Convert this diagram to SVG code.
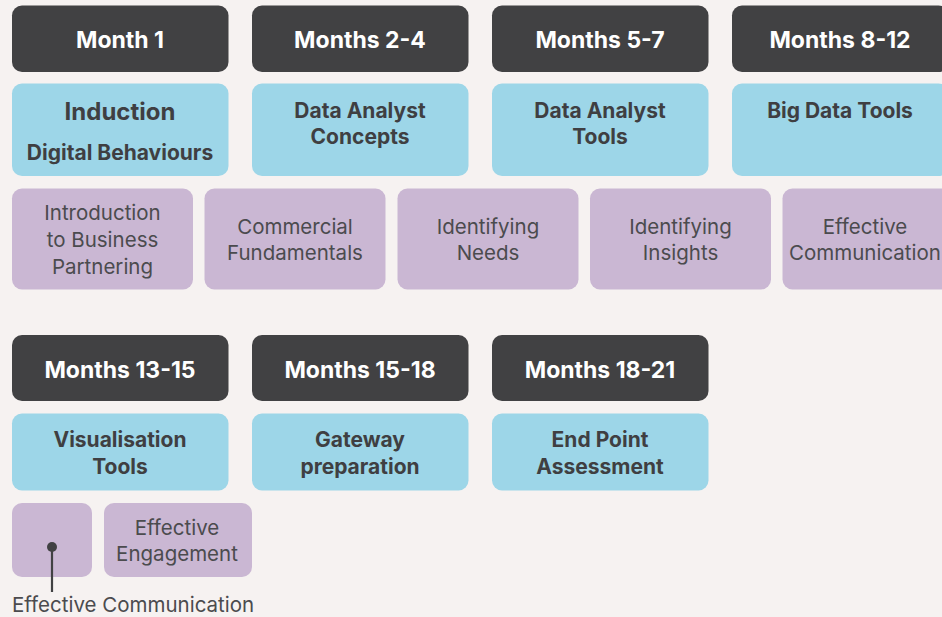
<svg xmlns="http://www.w3.org/2000/svg" width="942" height="617" viewBox="0 0 942 617">
<style>
.bg{fill:#f6f2f1}
.dk{fill:#414143}
.bl{fill:#9dd6e8}
.pu{fill:#cab7d3}
.th{font-family:Inter,"Noto Sans",sans-serif;font-weight:700;font-size:23px;fill:#ffffff;text-anchor:middle}
.tb{font-family:Inter,"Noto Sans",sans-serif;font-weight:700;font-size:21px;fill:#3f3f42;text-anchor:middle}
.tp{font-family:Inter,"Noto Sans",sans-serif;font-weight:400;font-size:20.5px;fill:#4b4b4e;text-anchor:middle}
.tl{font-family:Inter,"Noto Sans",sans-serif;font-weight:400;font-size:20.5px;fill:#4b4b4e}
</style>
<rect class="bg" x="0" y="0" width="942" height="617"/>

<g id="m1"><rect class="dk" x="12" y="5.5" width="216.5" height="66.5" rx="10"/><text class="th" x="120" y="48">Month 1</text></g>
<g id="m2-4"><rect class="dk" x="252" y="5.5" width="216.5" height="66.5" rx="10"/><text class="th" x="360" y="48">Months 2-4</text></g>
<g id="m5-7"><rect class="dk" x="492" y="5.5" width="216.5" height="66.5" rx="10"/><text class="th" x="600" y="48">Months 5-7</text></g>
<g id="m8-12"><rect class="dk" x="732" y="5.5" width="216.5" height="66.5" rx="10"/><text class="th" x="840" y="48">Months 8-12</text></g>

<g id="induction"><rect class="bl" x="12" y="83.5" width="216.5" height="92.5" rx="10"/><text class="tb" x="120" y="120" style="font-size:24px">Induction</text><text class="tb" x="120" y="160">Digital Behaviours</text></g>
<g id="da-concepts"><rect class="bl" x="252" y="83.5" width="216.5" height="92.5" rx="10"/><text class="tb" x="360" y="118">Data Analyst</text><text class="tb" x="360" y="144">Concepts</text></g>
<g id="da-tools"><rect class="bl" x="492" y="83.5" width="216.5" height="92.5" rx="10"/><text class="tb" x="600" y="118">Data Analyst</text><text class="tb" x="600" y="144">Tools</text></g>
<g id="big-data"><rect class="bl" x="732" y="83.5" width="216.5" height="92.5" rx="10"/><text class="tb" x="840" y="118">Big Data Tools</text></g>

<g id="intro-bp"><rect class="pu" x="12" y="188.5" width="181" height="101" rx="10"/><text class="tp" x="102.5" y="220">Introduction</text><text class="tp" x="102.5" y="247">to Business</text><text class="tp" x="102.5" y="273.5">Partnering</text></g>
<g id="commercial"><rect class="pu" x="204.5" y="188.5" width="181" height="101" rx="10"/><text class="tp" x="295" y="234">Commercial</text><text class="tp" x="295" y="260">Fundamentals</text></g>
<g id="id-needs"><rect class="pu" x="397.5" y="188.5" width="181" height="101" rx="10"/><text class="tp" x="488" y="234">Identifying</text><text class="tp" x="488" y="260">Needs</text></g>
<g id="id-insights"><rect class="pu" x="590" y="188.5" width="181" height="101" rx="10"/><text class="tp" x="680.5" y="234">Identifying</text><text class="tp" x="680.5" y="260">Insights</text></g>
<g id="eff-comm"><rect class="pu" x="782.5" y="188.5" width="181" height="101" rx="10"/><text class="tp" x="865" y="234">Effective</text><text class="tp" x="865" y="260">Communication</text></g>

<g id="m13-15"><rect class="dk" x="12" y="335" width="216.5" height="66" rx="10"/><text class="th" x="120" y="378">Months 13-15</text></g>
<g id="m15-18"><rect class="dk" x="252" y="335" width="216.5" height="66" rx="10"/><text class="th" x="360" y="378">Months 15-18</text></g>
<g id="m18-21"><rect class="dk" x="492" y="335" width="216.5" height="66" rx="10"/><text class="th" x="600" y="378">Months 18-21</text></g>

<g id="vis-tools"><rect class="bl" x="12" y="413.5" width="216.5" height="77" rx="10"/><text class="tb" x="120" y="447">Visualisation</text><text class="tb" x="120" y="474">Tools</text></g>
<g id="gateway"><rect class="bl" x="252" y="413.5" width="216.5" height="77" rx="10"/><text class="tb" x="360" y="447">Gateway</text><text class="tb" x="360" y="474">preparation</text></g>
<g id="epa"><rect class="bl" x="492" y="413.5" width="216.5" height="77" rx="10"/><text class="tb" x="600" y="447">End Point</text><text class="tb" x="600" y="474">Assessment</text></g>

<g id="empty-box"><rect class="pu" x="12" y="503" width="80" height="74" rx="10"/></g>
<g id="eff-engage"><rect class="pu" x="104" y="503" width="148" height="74" rx="10"/><text class="tp" x="177" y="535">Effective</text><text class="tp" x="177" y="561">Engagement</text></g>

<g id="connectors">
<line x1="52" y1="547" x2="52" y2="592" stroke="#414143" stroke-width="2.2"/>
<circle cx="52" cy="547" r="5" fill="#414143"/>
</g>
<g id="callout-label"><text class="tl" x="12" y="612">Effective Communication</text></g>
</svg>
